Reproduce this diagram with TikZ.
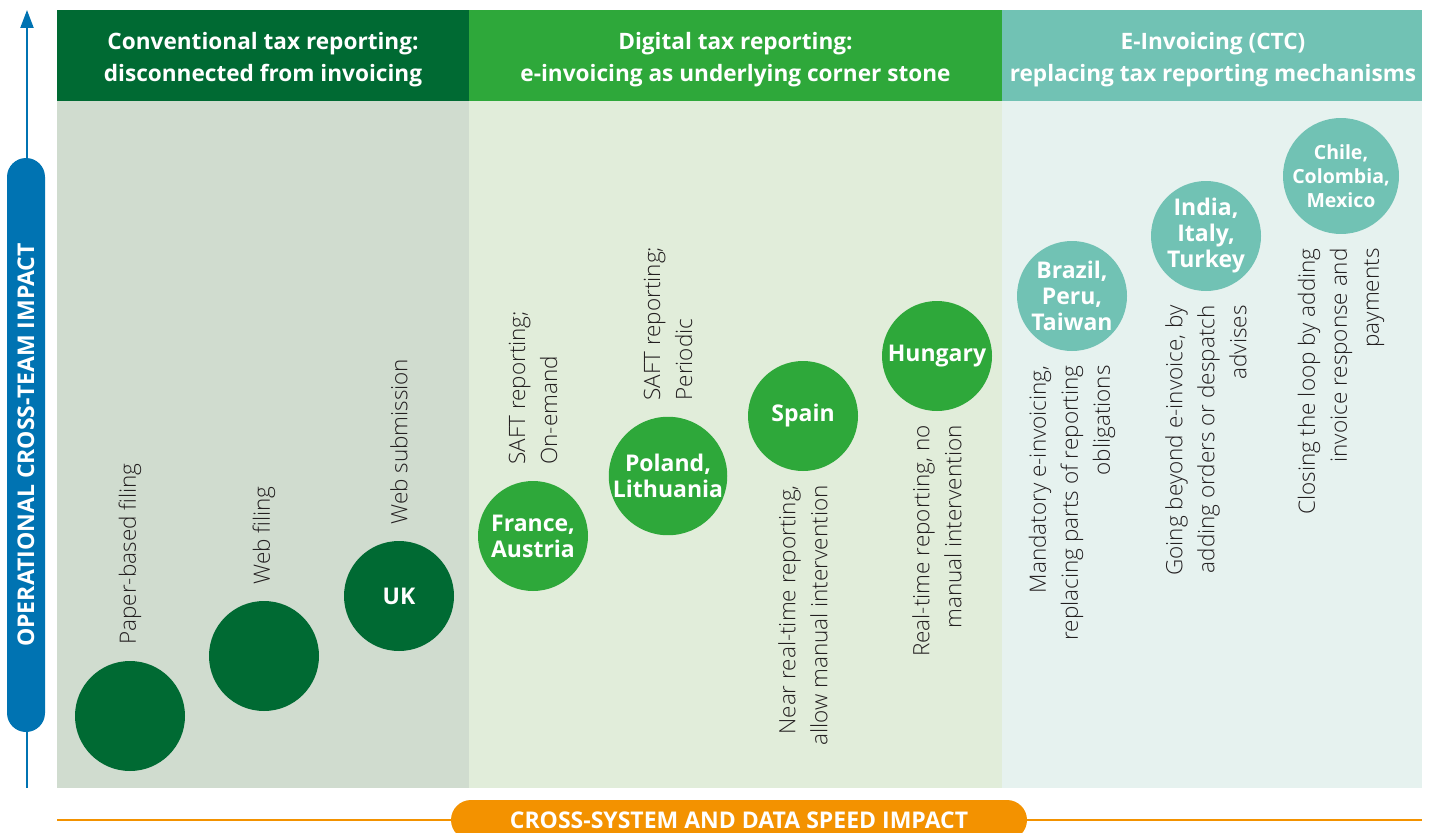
\documentclass[tikz,border=0pt]{standalone}
\usepackage{fontspec}
\setmainfont{Open Sans}
\IfFontExistsTF{Open Sans Light}{\newfontfamily\lightfont{Open Sans Light}}{\newfontfamily\lightfont{Open Sans}}
\usetikzlibrary{arrows.meta}
\definecolor{dkgreen}{RGB}{0,106,51}
\definecolor{midgreen}{RGB}{46,168,58}
\definecolor{teal}{RGB}{113,194,180}
\definecolor{bgone}{RGB}{208,220,207}
\definecolor{bgtwo}{RGB}{225,237,218}
\definecolor{bgthree}{RGB}{230,242,239}
\definecolor{axisblue}{RGB}{0,115,178}
\definecolor{axisorange}{RGB}{243,146,0}
\definecolor{ink}{RGB}{35,31,32}
\begin{document}
\begin{tikzpicture}[x=1pt,y=-1pt,
  panel/.style={anchor=north west, inner sep=0, draw=none},
  hdrtext/.style={text=white, font=\bfseries\fontsize{22.6}{32}\selectfont, align=center, inner sep=0},
  bub/.style={circle, minimum size=110, inner sep=0, text=white, font=\bfseries\fontsize{23}{26}\selectfont, align=center},
  lbl/.style={rotate=90, inner sep=0, text=ink, font=\lightfont\fontsize{22.5}{32}\selectfont},
  uplbl/.style={lbl, anchor=west, align=left},
  downlbl/.style={lbl, anchor=east, align=right},
  axisline/.style={line width=2.2pt}
]
\useasboundingbox (0,0) rectangle (1431,832);
% headers
\node[panel, fill=dkgreen, minimum width=412, minimum height=91] (h1) at (57,10) {};
\node[panel, fill=midgreen, minimum width=533, minimum height=91] (h2) at (469,10) {};
\node[panel, fill=teal, minimum width=420, minimum height=91] (h3) at (1002,10) {};
% bodies
\node[panel, fill=bgone, minimum width=412, minimum height=686.5] (b1) at (57,101) {};
\node[panel, fill=bgtwo, minimum width=533, minimum height=686.5] (b2) at (469,101) {};
\node[panel, fill=bgthree, minimum width=420, minimum height=686.5] (b3) at (1002,101) {};
% header texts
\node[hdrtext] (t1) at (263,59.5) {Conventional tax reporting:\\disconnected from invoicing};
\node[hdrtext] (t2) at (735.5,59.5) {Digital tax reporting:\\e-invoicing as underlying corner stone};
\node[hdrtext] (t3) at (1213,59.5) {E-Invoicing (CTC)\\replacing tax reporting mechanisms};
% vertical axis
\coordinate (vbot) at (27,787.5);
\coordinate (vtop) at (27,10);
\draw[axisline, draw=axisblue, -{Triangle[width=13pt,length=18pt]}] (vbot) -- (vtop);
\node[rotate=90, fill=axisblue, minimum width=574, minimum height=38, rounded corners=19pt, inner sep=0,
  text=white, font=\bfseries\fontsize{23}{26}\selectfont] (vpill) at (26,445) {OPERATIONAL CROSS-TEAM IMPACT};
% horizontal axis
\coordinate (hl) at (57,820);
\coordinate (hr) at (1422,820);
\draw[axisline, draw=axisorange] (hl) -- (hr);
\node[fill=axisorange, minimum width=576, minimum height=40, rounded corners=20pt, inner sep=0,
  text=white, font=\bfseries\fontsize{23}{26}\selectfont] (hpill) at (739,820) {CROSS-SYSTEM AND DATA SPEED IMPACT};
% bubbles
\node[bub, fill=dkgreen] (c1) at (130,716) {};
\node[bub, fill=dkgreen] (c2) at (264,656) {};
\node[bub, fill=dkgreen] (c3) at (399,596) {UK};
\node[bub, fill=midgreen] (c4) at (533,536) {France,\\Austria};
\node[bub, fill=midgreen] (c5) at (668,476) {Poland,\\Lithuania};
\node[bub, fill=midgreen] (c6) at (803,416) {Spain};
\node[bub, fill=midgreen] (c7) at (937,356) {Hungary};
\node[bub, fill=teal] (c8) at (1072,296) {Brazil,\\Peru,\\Taiwan};
\node[bub, fill=teal] (c9) at (1206,236) {India,\\Italy,\\Turkey};
\node[bub, fill=teal, font=\bfseries\fontsize{19.5}{24}\selectfont] (c10) at (1341,176) {Chile,\\Colombia,\\Mexico};
% labels
\node[uplbl] (l1) at ([yshift=16pt]c1.north) {Paper-based filing};
\node[uplbl] (l2) at ([yshift=16pt]c2.north) {Web filing};
\node[uplbl] (l3) at ([yshift=16pt]c3.north) {Web submission};
\node[uplbl] (l4) at ([yshift=16pt]c4.north) {SAFT reporting;\\On-emand};
\node[uplbl] (l5) at ([yshift=16pt]c5.north) {SAFT reporting;\\Periodic};
\node[downlbl] (l6) at ([yshift=-14pt]c6.south) {Near real-time reporting,\\allow manual intervention};
\node[downlbl] (l7) at ([yshift=-14pt]c7.south) {Real-time reporting, no\\manual intervention};
\node[downlbl] (l8) at ([yshift=-14pt]c8.south) {Mandatory e-invoicing,\\replacing parts of reporting\\obligations};
\node[downlbl] (l9) at ([yshift=-14pt]c9.south) {Going beyond e-invoice, by\\adding orders or despatch\\advises};
\node[downlbl] (l10) at ([yshift=-14pt]c10.south) {Closing the loop by adding\\invoice response and\\payments};
\end{tikzpicture}
\end{document}
